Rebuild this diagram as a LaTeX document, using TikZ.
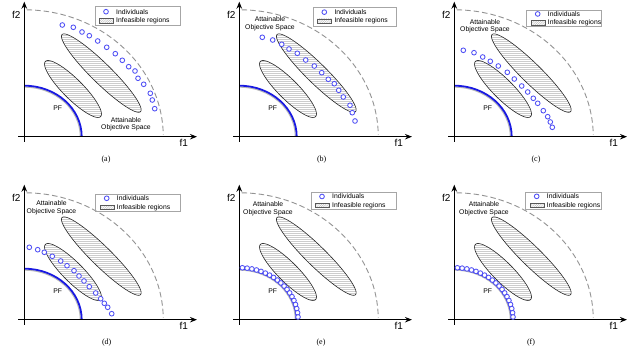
\documentclass[tikz,border=0pt]{standalone}
\usepackage{fontspec}
\setmainfont{Liberation Serif}
\newfontfamily\lsans{Liberation Sans}
\usetikzlibrary{arrows.meta,patterns.meta}
\definecolor{indblue}{RGB}{80,80,245}
\definecolor{pfblue}{RGB}{25,25,225}
\tikzset{
 axisline/.style={line width=1.2pt,-{Stealth[length=7pt,width=5.5pt]}},
 boundary/.style={gray!85, line width=0.9pt, dash pattern=on 5.5pt off 3pt},
 pfcurve/.style={pfblue,line width=1.8pt},
 pfshadow/.style={gray!55,line width=1.1pt},
 infeas/.style={draw=black!85,line width=0.6pt,pattern={Lines[angle=0,distance=2pt,line width=0.4pt]},pattern color=gray!40},
 indiv/.style={circle,draw=indblue,fill=white,line width=0.85pt,inner sep=0pt,minimum size=4.7pt},
 lbl/.style={font=\lsans\fontsize{6.8}{7.8}\selectfont,inner sep=0pt,align=center},
 axlbl/.style={font=\lsans\fontsize{10}{10}\selectfont,inner sep=0pt},
 capt/.style={font=\fontsize{8}{9}\selectfont,inner sep=0pt},
 legbox/.style={draw=gray!70,line width=0.6pt},
 leghatch/.style={draw=black!65,line width=0.5pt,pattern={Lines[angle=45,distance=1.6pt,line width=0.35pt]},pattern color=gray!60}
}
% #1 prefix, #2 caption letter, #3 caption x
\newcommand\panelbase[3]{%
 \draw[boundary] (2.4,126.9) arc[start angle=89,end angle=1,x radius=139,y radius=127];
 \draw[pfshadow] (0,49.6) arc[start angle=90,end angle=0,x radius=56,y radius=49.6];
 \draw[pfcurve] (0,51) arc[start angle=90,end angle=0,x radius=57.4,y radius=51];
 \draw[infeas] plot[domain=0:360,samples=121,variable=\t]
   ({77+55*cos(\t)*cos(-44.5)-10*sin(\t)*sin(-44.5)},{63.6+55*cos(\t)*sin(-44.5)+10*sin(\t)*cos(-44.5)}) -- cycle;
 \draw[infeas] plot[domain=0:360,samples=121,variable=\t]
   ({48.7+39*cos(\t)*cos(-45)-10*sin(\t)*sin(-45)},{47.7+39*cos(\t)*sin(-45)+10*sin(\t)*cos(-45)}) -- cycle;
 \draw[axisline] (-6,0) -- (172.7,0);
 \draw[axisline] (0,-5) -- (0,135);
 \node[axlbl] (#1-f2) at (-8,121.7) {f2};
 \node[axlbl] (#1-f1) at (159.4,-6.3) {f1};
 \node[lbl] (#1-pf) at (33.5,28.8) {PF};
 \node[capt] (#1-cap) at (#3,-22.8) {(#2)};
}
% #1 prefix, #2 x0, #3 y0, #4 x1, #5 y1
\newcommand\legendbox[5]{%
 \draw[legbox] (#2,#3) rectangle (#4,#5);
 \node[indiv] (#1-legind) at ({#2+11},{(#3+#5)/2+4.5}) {};
 \node[lbl,anchor=west] (#1-legindt) at ({#2+21},{(#3+#5)/2+4.5}) {Individuals};
 \draw[leghatch] ({#2+4.3},{(#3+#5)/2-6.7}) rectangle ({#2+18.3},{(#3+#5)/2-2.3});
 \node[lbl,anchor=west] (#1-leginf) at ({#2+21},{(#3+#5)/2-4.5}) {Infeasible regions};
}
\newcommand\pfindividuals[1]{%
 \foreach \k in {0,...,18}{
   \node[indiv] (#1-i\k) at ({58.8*cos(87-\k*84/18)},{52*sin(87-\k*84/18)}) {};
 }
}
\begin{document}
\begin{tikzpicture}[x=1pt,y=1pt]
\useasboundingbox (0,0) rectangle (640,363);
\fill[white] (0,0) rectangle (640,363);

% (a)
\begin{scope}[shift={(24.3,226.3)}]
 \panelbase{a}{a}{81.7}
 \legendbox{a}{70.7}{111}{155.7}{130}
 \node[lbl] (a-aos) at (101.7,12.5) {Attainable\\Objective Space};
 \foreach \x/\y [count=\i] in {38/111.7,49/109.4,57.7/104.7,65/101,73.4/95.7,82.4/89.4,91/83,98/76.4,104.4/70,110.7/65.7,113.7/58.4,119.4/52.4,126/43.4,128/36.7,130.4/28}
   \node[indiv] (a-i\i) at (\x,\y) {};
\end{scope}

% (b)
\begin{scope}[shift={(239.3,226.3)}]
 \panelbase{b}{b}{82.4}
 \legendbox{b}{74}{110.7}{157.4}{129.4}
 \node[lbl] (b-aos) at (30.7,113.3) {Attainable\\Objective Space};
 \foreach \x/\y [count=\i] in {23/99.4,33.4/96.7,42.4/92.4,49.7/87.7,58/83.4,66.4/76.7,75/70.7,82.4/64,89/57.4,95/53,99.4/46.4,104/39.7,110.7/31.4,113/24,115.7/15.7}
   \node[indiv] (b-i\i) at (\x,\y) {};
\end{scope}

% (c)
\begin{scope}[shift={(454.3,226.3)}]
 \panelbase{c}{c}{81.7}
 \legendbox{c}{72.4}{110}{147.4}{126.5}
 \node[lbl] (c-aos) at (30.7,110.5) {Attainable\\Objective Space};
 \foreach \x/\y [count=\i] in {9/86.4,19.7/84,28.4/79.7,36/75.4,44/70.7,53/64.4,60/57.7,67.4/50.7,73.4/44.7,79/38.4,83.4/33.4,89/26,93.4/20,96/14.7,98/9.4}
   \node[indiv] (c-i\i) at (\x,\y) {};
\end{scope}

% (d)
\begin{scope}[shift={(24.3,43.3)}]
 \panelbase{d}{d}{82.4}
 \legendbox{d}{71.4}{108.4}{156.4}{125.4}
 \node[lbl] (d-aos) at (27.2,112) {Attainable\\Objective Space};
 \foreach \x/\y [count=\i] in {5/72.4,13.4/70,20/67.4,28/63.4,36.4/58.7,42.7/54,49.7/49,54.7/43.7,59.7/38.7,65/33,71.4/26.7,76.4/21,80/16.4,83.4/12.4,87.4/6}
   \node[indiv] (d-i\i) at (\x,\y) {};
\end{scope}

% (e)
\begin{scope}[shift={(239.3,43.3)}]
 \panelbase{e}{e}{81.7}
 \legendbox{e}{71.7}{110}{157.4}{127.4}
 \node[lbl] (e-aos) at (28.7,111.3) {Attainable\\Objective Space};
 \pfindividuals{e}
\end{scope}

% (f)
\begin{scope}[shift={(454.3,43.3)}]
 \panelbase{f}{f}{76.7}
 \legendbox{f}{71.4}{110}{147.4}{127.7}
 \node[lbl] (f-aos) at (29.7,111) {Attainable\\Objective Space};
 \pfindividuals{f}
\end{scope}
\end{tikzpicture}
\end{document}
